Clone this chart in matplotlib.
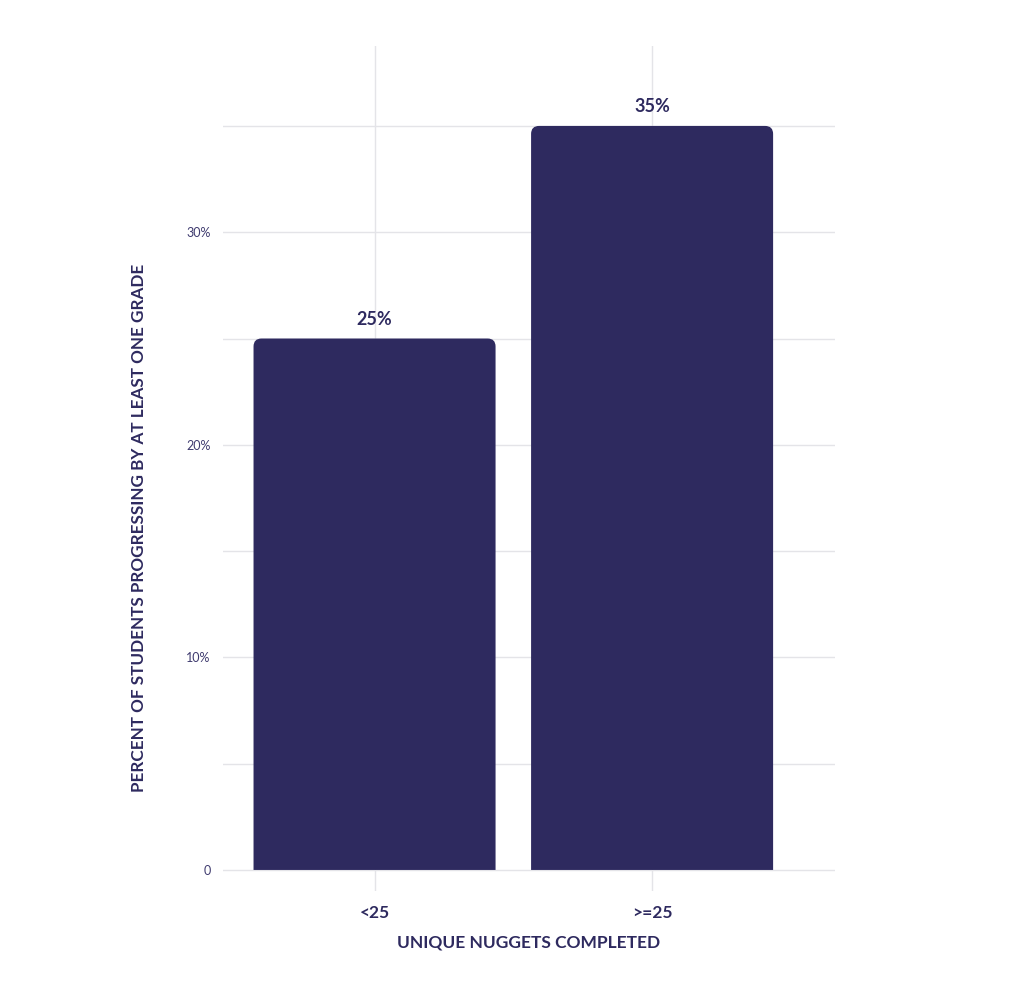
import matplotlib
matplotlib.use("Agg")
import matplotlib.pyplot as plt
from matplotlib.patches import PathPatch
from matplotlib.path import Path
from matplotlib.ticker import FixedLocator, FuncFormatter

categories = ["<25", ">=25"]
values = [25, 35]
value_labels = ["25%", "35%"]
major_ticks = [0, 10, 20, 30]
minor_ticks = [5, 15, 25, 35]

NAVY = "#2e2a5f"
TEXT = "#2e2a5f"
TICK = "#3f3b6f"
GRID = "#e4e4e8"

plt.rcParams['font.family'] = ['Lato', 'DejaVu Sans']

fig = plt.figure(figsize=(10.24, 9.92), dpi=100)
ax = fig.add_axes([223/1024, (992-891)/992, (835-223)/1024, (891-46)/992])

ax.set_xlim(-0.546, 1.659)
ax.set_ylim(-0.99, 38.76)

x = list(range(len(categories)))
width = 0.872
bars = ax.bar(x, values, width=width, color=NAVY, zorder=3)

# replace with rounded-top bars
fig.canvas.draw()
px_per_x = ax.transData.transform((1, 0))[0] - ax.transData.transform((0, 0))[0]
px_per_y = ax.transData.transform((0, 1))[1] - ax.transData.transform((0, 0))[1]
r_px = 8
rx = r_px / px_per_x
ry = r_px / px_per_y
for b in bars:
    b.set_visible(False)
    x0, w, h = b.get_x(), b.get_width(), b.get_height()
    x1 = x0 + w
    verts = [(x0, 0), (x0, h - ry), (x0, h), (x0 + rx, h), (x1 - rx, h), (x1, h), (x1, h - ry),
             (x1, 0), (x0, 0)]
    codes = [Path.MOVETO, Path.LINETO, Path.CURVE3, Path.CURVE3, Path.LINETO, Path.CURVE3,
             Path.CURVE3, Path.LINETO, Path.CLOSEPOLY]
    ax.add_patch(PathPatch(Path(verts, codes), facecolor=NAVY, edgecolor="none", zorder=3))

for xi, v, lab in zip(x, values, value_labels):
    ax.annotate(lab, (xi, v), xytext=(0, 19), textcoords="offset pixels",
                ha="center", va="center", fontsize=13, fontweight="bold", color=TEXT)

ax.yaxis.set_major_locator(FixedLocator(major_ticks))
ax.yaxis.set_minor_locator(FixedLocator(minor_ticks))
ax.yaxis.set_major_formatter(FuncFormatter(lambda v, p: "0" if v == 0 else f"{v:.0f}%"))
ax.set_xticks(x)
ax.set_xticklabels(categories)

ax.grid(True, which="both", axis="y", color=GRID, linewidth=1, zorder=0)
ax.grid(True, which="major", axis="x", color=GRID, linewidth=1, zorder=0)
for s in ax.spines.values():
    s.set_visible(False)
ax.tick_params(axis="both", which="both", length=0)
ax.tick_params(axis="y", labelsize=9, labelcolor=TICK, pad=9)
ax.tick_params(axis="x", labelsize=12.5, labelcolor=TEXT, pad=10)
for t in ax.get_xticklabels():
    t.set_fontweight("bold")

ax.set_xlabel("UNIQUE NUGGETS COMPLETED", fontsize=12.5, fontweight="bold", color=TEXT, labelpad=10)
ax.set_ylabel("PERCENT OF STUDENTS PROGRESSING BY AT LEAST ONE GRADE", fontsize=12.3,
              fontweight="bold", color=TEXT, va="center", ha="center")
ax.yaxis.set_label_coords(-0.137, 0.4296)

fig.savefig("out.png", dpi=100, facecolor="white")
